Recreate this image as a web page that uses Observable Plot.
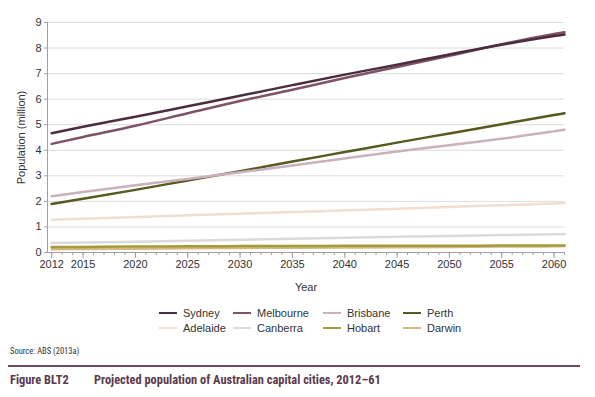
<!DOCTYPE html>
<html><head><meta charset="utf-8">
<script src="https://cdn.jsdelivr.net/npm/d3@7"></script>
<script src="https://cdn.jsdelivr.net/npm/@observablehq/plot@0.6"></script>
<style>
body{margin:0;background:#fff;}
#wrap{position:relative;width:595px;height:397px;font-family:"Liberation Sans",Arial,sans-serif;}
#chart{position:absolute;left:0;top:0;}
#legend{position:absolute;left:159px;top:306px;display:grid;grid-template-columns:74px 90px 80px auto;font-size:11px;color:#333;line-height:15px;}
#legend .sw{display:inline-block;width:18px;height:2.5px;vertical-align:middle;margin-right:6px;position:relative;top:-1px;}
#source{position:absolute;left:10px;top:346px;font-family:"Liberation Sans Narrow","Roboto Condensed",sans-serif;font-size:8.5px;color:#333;}
#rule{position:absolute;left:8px;top:365px;width:572px;height:1.5px;background:#6e4d60;}
#caption{position:absolute;left:10px;top:372px;font-family:"Liberation Sans Narrow","Roboto Condensed",sans-serif;font-weight:bold;font-size:12.4px;color:#5b3b4c;white-space:nowrap;}
#caption span{position:absolute;left:84px;}
</style></head>
<body><div id="wrap"><div id="chart"></div><div id="legend"></div>
<div id="source">Source: ABS (2013a)</div><div id="rule"></div>
<div id="caption">Figure BLT2<span>Projected population of Australian capital cities, 2012–61</span></div></div>
<script>
const years = [2012, 2015, 2020, 2025, 2030, 2035, 2040, 2045, 2050, 2055, 2060, 2061];
const cities = ["Sydney", "Melbourne", "Brisbane", "Perth", "Adelaide", "Canberra", "Hobart", "Darwin"];
const colors = ["#4b2d3f", "#7f5269", "#cbb0bd", "#575a1f", "#f3ddcc", "#dadada", "#a39c3a", "#d6b781"];
const sydney    = [4.67, 4.92, 5.31, 5.72, 6.13, 6.55, 6.96, 7.35, 7.75, 8.13, 8.47, 8.53];
const melbourne = [4.25, 4.52, 4.96, 5.45, 5.93, 6.37, 6.83, 7.26, 7.70, 8.15, 8.55, 8.62];
const brisbane  = [2.20, 2.37, 2.63, 2.88, 3.14, 3.40, 3.68, 3.95, 4.20, 4.45, 4.74, 4.80];
const perth     = [1.90, 2.10, 2.45, 2.82, 3.18, 3.56, 3.93, 4.30, 4.66, 5.02, 5.38, 5.45];
const adelaide  = [1.28, 1.32, 1.39, 1.46, 1.52, 1.58, 1.65, 1.71, 1.78, 1.85, 1.92, 1.94];
const canberra  = [0.37, 0.39, 0.42, 0.46, 0.50, 0.54, 0.58, 0.62, 0.65, 0.68, 0.71, 0.72];
const hobart    = [0.22, 0.22, 0.23, 0.24, 0.25, 0.25, 0.26, 0.26, 0.26, 0.27, 0.27, 0.27];
const darwin    = [0.13, 0.14, 0.15, 0.17, 0.18, 0.19, 0.20, 0.21, 0.22, 0.23, 0.24, 0.25];
const yTicks = [0, 1, 2, 3, 4, 5, 6, 7, 8, 9];
const xMajor = [2012, 2015, 2020, 2025, 2030, 2035, 2040, 2045, 2050, 2055, 2060];
const xMinor = d3.range(2012, 2062);

const series = [sydney, melbourne, brisbane, perth, adelaide, canberra, hobart, darwin];
const data = [];
cities.forEach((c, i) => years.forEach((y, j) => data.push({city: c, year: y, value: series[i][j]})));
const drawOrder = cities.slice().reverse();
const sorted = drawOrder.flatMap(c => data.filter(d => d.city === c));

const plot = Plot.plot({
  width: 595, height: 300,
  marginLeft: 47, marginRight: 31, marginTop: 22, marginBottom: 48,
  x: {domain: [2011.6, 2061]},
  y: {domain: [0, 9]},
  color: {domain: cities, range: colors},
  style: {fontFamily: "'Liberation Sans', Arial, sans-serif", fontSize: "11px", color: "#333", background: "#fff"},
  marks: [
    Plot.gridY(yTicks, {stroke: "#dcdcdc", strokeOpacity: 1}),
    Plot.axisY(yTicks, {tickSize: 3, tickPadding: 3, stroke: "#a0a0a0", label: "Population (million)", labelAnchor: "center", labelOffset: 30, labelArrow: "none"}),
    Plot.axisX(xMinor, {tickSize: 3, stroke: "#a0a0a0", tickFormat: () => "", label: null}),
    Plot.axisX(xMajor, {tickSize: 6, tickPadding: 2, stroke: "#a0a0a0", tickFormat: "d", label: "Year", labelAnchor: "center", labelOffset: 38, labelArrow: "none"}),
    Plot.frame({anchor: "left", stroke: "#a0a0a0"}),
    Plot.frame({anchor: "bottom", stroke: "#a0a0a0"}),
    Plot.line(sorted, {x: "year", y: "value", z: "city", stroke: "city", strokeWidth: 2.5, curve: "monotone-x"})
  ]
});
document.getElementById("chart").appendChild(plot);

const leg = document.getElementById("legend");
cities.forEach((c, i) => {
  const d = document.createElement("div");
  d.innerHTML = `<span class="sw" style="background:${colors[i]}"></span>${c}`;
  leg.appendChild(d);
});
</script></body></html>
